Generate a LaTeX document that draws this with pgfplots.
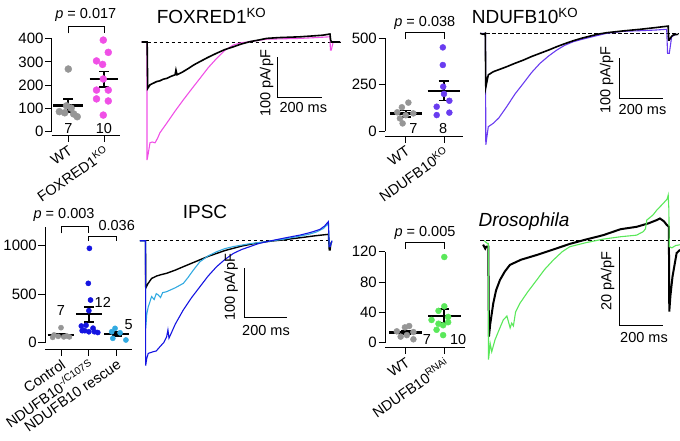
\documentclass[border=0pt]{standalone}
\usepackage{pgfplots}
\pgfplotsset{compat=1.18}
\usepackage{fontspec}
\setmainfont{Liberation Sans}
\definecolor{cgray}{RGB}{150,150,150}
\definecolor{cpink}{RGB}{240,80,230}
\definecolor{cpurple}{RGB}{105,60,240}
\definecolor{cblue}{RGB}{20,20,225}
\definecolor{clblue}{RGB}{50,170,225}
\definecolor{cgreen}{RGB}{90,232,90}
\newcommand{\fs}{\fontsize{14.5}{16}\selectfont}
\newcommand{\ftk}{\fontsize{15}{17}\selectfont}
\newcommand{\ft}{\fontsize{19}{22}\selectfont}
\pgfplotsset{
  dotax/.style={
    axis x line*=bottom, axis y line*=left,
    tick align=outside, major tick length=6.5pt,
    clip=false, anchor=south west,
    axis line style={line width=0.9pt},
    every tick/.style={black, line width=0.9pt},
    tick label style={font=\ftk},
    /pgf/number format/assume math mode=true,
    /pgf/number format/1000 sep={},
    scaled y ticks=false,
    yticklabel style={inner sep=1.5pt},
    xticklabel style={rotate=35, anchor=north east, inner sep=2pt, font=\fs},
  },
  trax/.style={hide axis, clip=false, anchor=south west},
  meanl/.style={black, line width=2.4pt},
  semb/.style={black, line width=1.8pt},
  dots/.style={only marks, mark=*, mark size=#1},
  base/.style={black, dash pattern=on 3.5pt off 2.5pt, line width=1pt},
  sbar/.style={black, line width=1pt},
}
\begin{document}
\begin{tikzpicture}
\path[use as bounding box] (0pt,0pt) rectangle (680pt,-441pt);

% ---------------- Panel A dots
\begin{axis}[dotax, at={(51.7pt,-131.3pt)}, x=35.7pt, y=0.2315pt,
  xmin=-0.465, xmax=1.448, ymin=0, ymax=400, ytick={0,100,200,300,400},
  xtick={0,1}, xticklabels={WT, FOXRED1\textsuperscript{KO}}, axis x line shift=4pt]
\addplot[dots=3.5pt, cgray] coordinates {(0,269)(-0.25,85)(-0.1,80)(0.08,100)(0.25,63)(-0.05,110)(0.15,75)};
\addplot[dots=3.5pt, cpink] coordinates {(0.98,394)(1.12,341)(0.79,304)(0.96,289)(0.98,226)(0.79,178)(1.12,178)(0.79,140)(1.12,131)(0.98,70)};
\addplot[meanl] coordinates {(-0.42,112)(0.42,112)};
\addplot[semb] coordinates {(0,85)(0,139)};
\addplot[semb] coordinates {(-0.14,139)(0.14,139)};
\addplot[semb] coordinates {(-0.14,85)(0.14,85)};
\addplot[meanl] coordinates {(0.6,225)(1.4,225)};
\addplot[semb] coordinates {(1,192)(1,258)};
\addplot[semb] coordinates {(0.86,258)(1.14,258)};
\addplot[semb] coordinates {(0.86,192)(1.14,192)};
\draw[line width=0.9pt] (axis cs:0,423) -- (axis cs:0,455) -- (axis cs:1,455) -- (axis cs:1,423);
\node[font=\fs] at (axis cs:0.49,502) {\textit{p} = 0.017};
\node[font=\fs] at (axis cs:0,13) {7};
\node[font=\fs] at (axis cs:1,13) {10};
\end{axis}

% ---------------- Panel A traces
\begin{axis}[trax, at={(140.1pt,-162pt)}, x=0.22pt, y=0.4pt, xmin=-30, xmax=900, ymin=-300, ymax=30]
\addplot[base] coordinates {(-22.7,0)(879,0)};
\addplot[cpink, line width=1.1pt] coordinates {(-22.7,0)(1,0)(1.4,-295)(6,-282)(15,-252)(25,-250)(38,-252)(50,-240)(60,-227)(91,-203)(130,-172)(166,-145)(205,-117)(242,-91)(280,-64)(318,-41)(355,-21)(394,-7.5)(430,-2)(470,1)(545,7)(620,8)(697,9)(770,11)(833,13)(835,-20)(839,-20)(848,1)(879,1)};
\addplot[black, line width=1.6pt] coordinates {(-22.7,0)(2,0)(4.5,-116)(15,-107)(30,-103)(45,-99)(60,-97)(75,-93)(91,-91)(110,-86)(129,-82)(133,-70)(138,-82)(160,-76)(190,-66)(215,-57)(242,-49)(280,-38)(318,-28)(355,-19)(394,-12)(430,-5)(470,1)(510,5)(545,9)(600,11)(650,12)(697,13)(750,15)(800,17)(833,20)(836,5)(840,0)(879,0)};
\addplot[sbar] coordinates {(595,-37.5)(595,-137.5)(795,-137.5)};
\end{axis}
\node[font=\ft, anchor=base west] at (153.3pt,-23.3pt) {FOXRED1\textsuperscript{KO}};
\node[font=\fs, rotate=90] at (266.7pt,-83.5pt) {100 pA/pF};
\node[font=\fs] at (303.3pt,-108pt) {200 ms};

% ---------------- Panel B dots
\begin{axis}[dotax, at={(385pt,-131pt)}, x=38.3pt, y=0.1854pt,
  xmin=-0.54, xmax=1.496, ymin=0, ymax=500, ytick={0,250,500},
  xtick={0,1}, xticklabels={WT, NDUFB10\textsuperscript{KO}}, axis x line shift=5pt]
\addplot[dots=3pt, cgray] coordinates {(0.07,153)(-0.1,128)(-0.22,101)(0.2,95)(-0.15,68)(-0.08,41)(0.0,85)};
\addplot[dots=3pt, cpurple] coordinates {(0.97,451)(0.97,356)(0.98,239)(1.0,200)(1.14,163)(0.81,131)(1.14,99)(0.81,86)};
\addplot[meanl] coordinates {(-0.42,94)(0.42,94)};
\addplot[semb] coordinates {(0,77)(0,111)};
\addplot[semb] coordinates {(-0.14,111)(0.14,111)};
\addplot[semb] coordinates {(-0.14,77)(0.14,77)};
\addplot[meanl] coordinates {(0.57,216)(1.43,216)};
\addplot[semb] coordinates {(1,164)(1,268)};
\addplot[semb] coordinates {(0.86,268)(1.14,268)};
\addplot[semb] coordinates {(0.86,164)(1.14,164)};
\draw[line width=0.9pt] (axis cs:0,495) -- (axis cs:0,530) -- (axis cs:1,530) -- (axis cs:1,495);
\node[font=\fs] at (axis cs:0.5,584) {\textit{p} = 0.038};
\node[font=\fs] at (axis cs:0.2,15) {7};
\node[font=\fs] at (axis cs:0.98,15) {8};
\end{axis}

% ---------------- Panel B traces
\begin{axis}[trax, at={(479.2pt,-153.3pt)}, x=0.2165pt, y=0.4pt, xmin=-30, xmax=900, ymin=-300, ymax=30]
\addplot[base] coordinates {(-26,0)(890,0)};
\addplot[cpurple, line width=1.1pt] coordinates {(-26,0)(-1,0)(0.5,-279)(12,-233.5)(35,-225)(60,-212)(97,-183.5)(135,-152)(174,-125)(212,-98)(251,-75)(290,-57)(328,-42)(365,-30)(405,-21)(445,-15)(482,-10)(520,-5)(559,0)(636,5)(713,6.5)(780,8)(836,10)(840,-50)(848,-50)(859,-8.5)(879,-2)};
\addplot[black, line width=1.6pt] coordinates {(-26,0)(-12,-2.5)(-2,0)(0.5,-135)(12,-104)(35,-96)(60,-91)(97,-83.5)(135,-75)(174,-67)(212,-58)(251,-50)(290,-42)(328,-33.5)(365,-26)(405,-18.5)(445,-12)(482,-7)(520,-2)(559,1.5)(636,6)(713,10)(780,14)(843,18)(845,-17)(848,-17)(858,-8)(867,-4)(890,-2.5)};
\addplot[sbar] coordinates {(617,-62.5)(617,-162.5)(817,-162.5)};
\end{axis}
\node[font=\ft, anchor=base west] at (468.3pt,-23.3pt) {NDUFB10\textsuperscript{KO}};
\node[font=\fs, rotate=90] at (606.7pt,-80pt) {100 pA/pF};
\node[font=\fs] at (642.5pt,-110pt) {200 ms};

% ---------------- Panel C dots
\begin{axis}[dotax, at={(45pt,-342.7pt)}, x=27.85pt, y=0.097pt,
  xmin=-0.575, xmax=2.54, ymin=0, ymax=1190, ytick={0,500,1000},
  xtick={0,1,2}, xticklabels={Control, NDUFB10\textsuperscript{-/C107S}, NDUFB10 rescue}, axis x line shift=6.3pt]
\addplot[dots=2.6pt, cgray] coordinates {(0,155)(-0.25,80)(0.2,70)(-0.1,65)(0.1,60)(-0.3,55)(0.3,60)};
\addplot[dots=2.6pt, cblue] coordinates {(1.02,973)(0.98,612)(1.06,440)(1.0,330)(0.73,172)(0.76,124)(0.9,180)(1.15,150)(1.0,113)(1.2,113)(1.32,105)(0.85,124)};
\addplot[dots=2.6pt, clblue] coordinates {(1.94,148)(1.82,113)(2.12,102)(1.86,45)(2.33,28)};
\addplot[meanl] coordinates {(-0.48,79)(0.48,79)};
\addplot[semb] coordinates {(0,64)(0,94)};
\addplot[semb] coordinates {(-0.18,94)(0.18,94)};
\addplot[semb] coordinates {(-0.18,64)(0.18,64)};
\addplot[meanl] coordinates {(0.53,293)(1.47,293)};
\addplot[semb] coordinates {(1,215)(1,368)};
\addplot[semb] coordinates {(0.82,368)(1.18,368)};
\addplot[semb] coordinates {(0.82,215)(1.18,215)};
\addplot[meanl] coordinates {(1.55,90)(2.45,90)};
\addplot[semb] coordinates {(2,70)(2,110)};
\addplot[semb] coordinates {(1.82,110)(2.18,110)};
\addplot[semb] coordinates {(1.82,70)(2.18,70)};
\draw[line width=0.9pt] (axis cs:0,1128) -- (axis cs:0,1203) -- (axis cs:1,1203) -- (axis cs:1,1128);
\draw[line width=0.9pt] (axis cs:1,1048) -- (axis cs:1,1100) -- (axis cs:2,1100) -- (axis cs:2,1048);
\node[font=\fs] at (axis cs:0.11,1316) {\textit{p} = 0.003};
\node[font=\fs] at (axis cs:2,1213) {0.036};
\node[font=\fs] at (axis cs:0,337) {7};
\node[font=\fs] at (axis cs:1.5,412) {12};
\node[font=\fs] at (axis cs:2.43,182) {5};
\end{axis}

% ---------------- Panel C traces
\begin{axis}[trax, at={(139.35pt,-373pt)}, x=0.2117pt, y=0.49pt, xmin=-30, xmax=900, ymin=-270, ymax=60]
\addplot[base] coordinates {(-27,0)(871,0)};
\addplot[black, line width=1.4pt] coordinates {(-27,0)(-1,0)(0,-97)(10,-88)(28,-77)(52,-72)(75,-69)(99,-66.5)(140,-60)(178,-53)(217,-46)(256,-39)(295,-32)(335,-26)(375,-20)(414,-15.5)(453,-11)(493,-7.5)(532,-4.5)(571,-2)(610,0)(650,1.5)(690,4)(729,6)(800,10)(863,13)(867,-19)(871,-19)(875,-5)(879,-2)};
\addplot[clblue, line width=1.1pt] coordinates {(-27,0)(-1,0)(0,-179)(5,-150)(12,-135)(28,-114)(40,-120)(50,-108)(60,-111)(70,-116)(80,-106)(99,-104)(140,-96)(178,-87)(200,-75)(225,-60)(256,-43)(295,-31)(335,-22.5)(375,-16)(414,-12)(493,-6)(571,-2)(650,3)(729,9.5)(770,13)(808,18)(840,25)(863,35.5)(867,-12)(871,-12)(880,0)};
\addplot[cblue, line width=1.1pt] coordinates {(-27,0)(-1,0)(0,-255)(5,-240)(12,-230)(36,-226.5)(50,-225)(68,-216)(85,-208)(99,-196)(105,-182)(110,-199)(140,-170)(178,-141)(217,-116)(256,-94)(295,-72)(335,-53)(375,-38)(414,-26)(453,-18)(493,-12)(532,-6)(571,-2)(650,5)(729,11.5)(780,17)(823,23)(845,30)(863,39)(867,-12)(871,-12)(880,0)};
\addplot[sbar] coordinates {(469,-56.3)(469,-156.3)(669,-156.3)};
\end{axis}
\node[font=\ft] at (205pt,-211.7pt) {IPSC};
\node[font=\fs, rotate=90] at (231pt,-287.5pt) {100 pA/pF};
\node[font=\fs] at (266pt,-331pt) {200 ms};

% ---------------- Panel D dots
\begin{axis}[dotax, at={(385pt,-342.7pt)}, x=38.6pt, y=0.7583pt,
  xmin=-0.536, xmax=1.536, ymin=0, ymax=120, ytick={0,40,80,120},
  xtick={0,1}, xticklabels={WT, NDUFB10\textsuperscript{RNAi}}, axis x line shift=4.6pt]
\addplot[dots=3pt, cgray] coordinates {(0.09,22)(-0.02,20.2)(0.2,14)(-0.13,8)(0.2,4.5)(-0.23,15)(0.03,10)};
\addplot[dots=3pt, cgreen] coordinates {(1.0,113)(1.0,48)(0.85,42)(1.1,34)(0.67,30)(1.1,27)(0.97,23)(0.85,25)(0.97,10)(0.8,17)};
\addplot[meanl] coordinates {(-0.43,13.2)(0.43,13.2)};
\addplot[semb] coordinates {(0,10.9)(0,15.5)};
\addplot[semb] coordinates {(-0.13,15.5)(0.13,15.5)};
\addplot[semb] coordinates {(-0.13,10.9)(0.13,10.9)};
\addplot[meanl] coordinates {(0.58,35.2)(1.42,35.2)};
\addplot[semb] coordinates {(1,26)(1,44)};
\addplot[semb] coordinates {(0.87,44)(1.13,44)};
\addplot[semb] coordinates {(0.87,26)(1.13,26)};
\draw[line width=0.9pt] (axis cs:0,123.6) -- (axis cs:0,131.9) -- (axis cs:1,131.9) -- (axis cs:1,123.6);
\node[font=\fs] at (axis cs:0.5,144.3) {\textit{p} = 0.005};
\node[font=\fs] at (axis cs:0.55,4.5) {7};
\node[font=\fs] at (axis cs:1.36,4.5) {10};
\end{axis}

% ---------------- Panel D traces
\begin{axis}[trax, at={(479.84pt,-367.58pt)}, x=0.2165pt, y=3.965pt, xmin=-40, xmax=900, ymin=-32, ymax=12]
\addplot[base] coordinates {(-39,0)(886,0)};
\addplot[black, line width=2pt] coordinates {(-25,-1)(-15,-2)(-10,-1.5)(-1,-1.5)(2,-24.2)(8,-21)(22,-15.8)(35,-12.5)(53,-9.9)(75,-7.8)(99,-6.1)(150,-4.8)(223,-3.6)(300,-2.2)(376,-0.8)(450,0.3)(530,1.4)(610,2.9)(684,3.5)(740,4.4)(777,5.2)(792,5.6)(810,4.9)(823,4.0)(833,3.5)(835,-17.9)(840,-14)(850,-9)(869,-3.1)(885,-2.3)};
\addplot[cgreen, line width=1.1pt] coordinates {(-20,0)(-5,-0.7)(-1,-0.7)(0,-30)(8,-26)(15,-28)(30,-25)(45,-23)(68,-20)(85,-19)(100,-22)(107,-20.8)(115,-21.5)(125,-18)(145,-15.8)(180,-13)(223,-9.9)(260,-7.2)(299,-4.9)(340,-2.8)(376,-1.5)(450,-0.5)(530,0.4)(610,1.0)(684,1.4)(715,2.3)(725,3)(731,5.2)(760,6.5)(777,7.7)(807,9.4)(825,10.5)(830,11.5)(833,8)(835,-1.5)(847,-1.8)(865,-1.2)(877,-1.1)(886,-1)};
\addplot[sbar] coordinates {(604,-1.5)(604,-21.5)(804,-21.5)};
\end{axis}
\node[font=\ft, anchor=base west] at (475pt,-226.7pt) {\textit{Drosophila}};
\node[font=\fs, rotate=90] at (607.5pt,-281pt) {20 pA/pF};
\node[font=\fs] at (644pt,-337.5pt) {200 ms};
\end{tikzpicture}
\end{document}
